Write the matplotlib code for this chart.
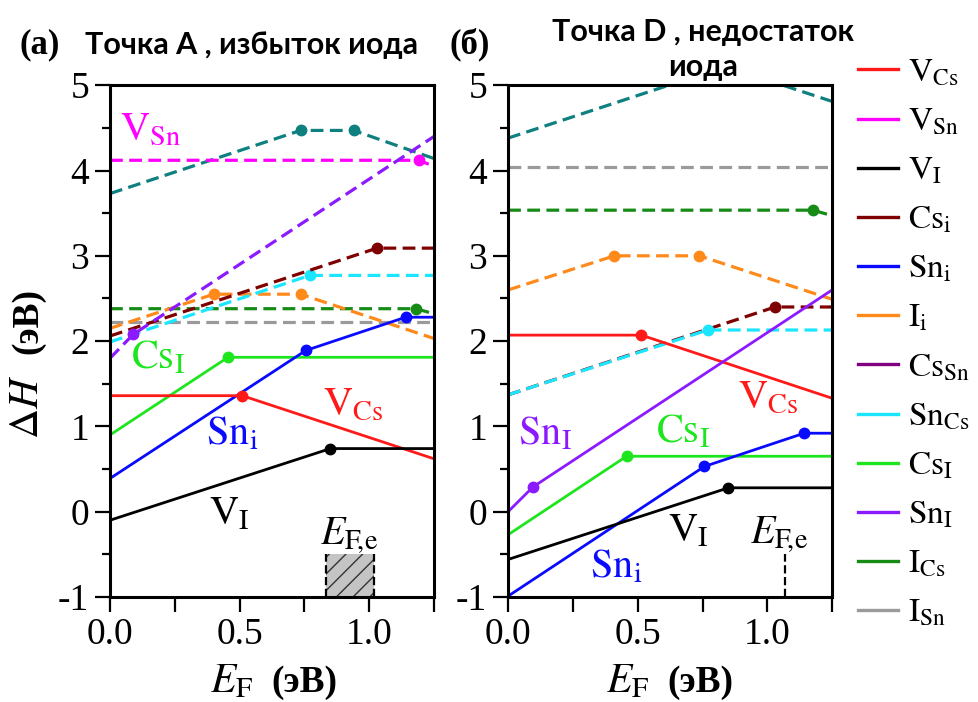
import matplotlib
matplotlib.use('Agg')
import matplotlib.pyplot as plt
from matplotlib.lines import Line2D
from matplotlib.ticker import MultipleLocator

plt.rcParams['mathtext.fontset'] = 'stix'
plt.rcParams['font.family'] = 'Liberation Serif'
plt.rcParams['axes.unicode_minus'] = False

# --- (а) точка A, избыток иода: ломаные энергии образования ---
a_VCs_x = [0, 0.51, 1.25];             a_VCs_y = [1.36, 1.36, 0.62]
a_VSn_x = [0, 1.19, 1.25];             a_VSn_y = [4.12, 4.12, 4.05]
a_VI_x = [0, 0.85, 1.25];              a_VI_y = [-0.10, 0.74, 0.74]
a_Csi_x = [0, 1.03, 1.25];             a_Csi_y = [2.06, 3.09, 3.09]
a_Sni_x = [0, 0.755, 1.14, 1.25];      a_Sni_y = [0.39, 1.89, 2.28, 2.28]
a_Ii_x = [0, 0.40, 0.735, 1.25];       a_Ii_y = [2.15, 2.55, 2.55, 2.03]
a_CsSn_x = [0, 0.735, 0.94, 1.25];     a_CsSn_y = [3.73, 4.47, 4.47, 4.14]
a_SnCs_x = [0, 0.77, 1.25];            a_SnCs_y = [1.99, 2.77, 2.77]
a_CsI_x = [0, 0.455, 1.25];            a_CsI_y = [0.90, 1.81, 1.81]
a_SnI_x = [0, 0.09, 1.25];             a_SnI_y = [1.80, 2.08, 4.40]
a_ICs_x = [0, 1.18, 1.25];             a_ICs_y = [2.38, 2.38, 2.32]
a_ISn_x = [0, 1.25];                   a_ISn_y = [2.22, 2.22]
a_EFe = [0.833, 1.02]                  # область уровня Ферми

# --- (б) точка D, недостаток иода ---
b_VCs_x = [0, 0.514, 1.25];            b_VCs_y = [2.07, 2.07, 1.33]
b_VI_x = [0, 0.85, 1.25];              b_VI_y = [-0.56, 0.28, 0.28]
b_Csi_x = [0, 1.03, 1.25];             b_Csi_y = [1.37, 2.40, 2.40]
b_Sni_x = [0, 0.757, 1.142, 1.25];     b_Sni_y = [-0.99, 0.53, 0.92, 0.92]
b_Ii_x = [0, 0.41, 0.738, 1.25];       b_Ii_y = [2.60, 3.00, 3.00, 2.49]
b_CsSn_x = [0, 0.73, 0.95, 1.25];      b_CsSn_y = [4.38, 5.11, 5.11, 4.81]
b_SnCs_x = [0, 0.77, 1.25];            b_SnCs_y = [1.37, 2.13, 2.13]
b_CsI_x = [0, 0.457, 1.25];            b_CsI_y = [-0.27, 0.65, 0.65]
b_SnI_x = [0, 0.096, 1.25];            b_SnI_y = [0.0, 0.29, 2.60]
b_ICs_x = [0, 1.177, 1.25];            b_ICs_y = [3.535, 3.535, 3.47]
b_ISn_x = [0, 1.25];                   b_ISn_y = [4.04, 4.04]
b_EFe = 1.07

c_red = '#ff1a1a'
c_mag = '#ff00ff'
c_maroon = '#7f0000'
c_blue = '#0a0aff'
c_orange = '#ff8a1c'
c_teal = '#0e8080'
c_purple = '#800080'
c_cyan = '#1ae6ff'
c_lime = '#1ee61e'
c_violet = '#8c1aff'
c_dkgreen = '#168c16'
c_gray = '#9a9a9a'

DASH = (0, (4, 2))


def draw(ax, x, y, color, dashed):
    kw = dict(color=color, ls=DASH if dashed else '-', lw=2.3 if dashed else 2.0)
    if len(x) > 2:
        kw.update(marker='o', ms=7.5, markevery=list(range(1, len(x) - 1)))
    ax.plot(x, y, **kw)


def setup(ax):
    ax.set_xlim(0, 1.25)
    ax.set_ylim(-1, 5)
    ax.xaxis.set_major_locator(MultipleLocator(0.5))
    ax.xaxis.set_minor_locator(MultipleLocator(0.25))
    ax.yaxis.set_major_locator(MultipleLocator(1))
    ax.yaxis.set_minor_locator(MultipleLocator(0.5))
    ax.xaxis.set_major_formatter(plt.FormatStrFormatter('%.1f'))
    ax.tick_params(which='both', direction='out', width=1.6, labelsize=27, pad=4)
    ax.tick_params(axis='x', which='both', length=11)
    ax.tick_params(axis='y', which='major', length=11)
    ax.tick_params(axis='y', which='minor', length=6)
    for s in ax.spines.values():
        s.set_linewidth(2.2)


fig = plt.figure(figsize=(9.79, 7.02), dpi=100)
axA = fig.add_axes([0.1124, 0.1496, 0.331, 0.729])
axB = fig.add_axes([0.519, 0.1496, 0.331, 0.729])

# панель (а)
draw(axA, a_CsSn_x, a_CsSn_y, c_teal, True)
draw(axA, a_VSn_x, a_VSn_y, c_mag, True)
draw(axA, a_ISn_x, a_ISn_y, c_gray, True)
draw(axA, a_ICs_x, a_ICs_y, c_dkgreen, True)
draw(axA, a_Ii_x, a_Ii_y, c_orange, True)
draw(axA, a_SnCs_x, a_SnCs_y, c_cyan, True)
draw(axA, a_Csi_x, a_Csi_y, c_maroon, True)
draw(axA, a_SnI_x, a_SnI_y, c_violet, True)
draw(axA, a_CsI_x, a_CsI_y, c_lime, False)
draw(axA, a_Sni_x, a_Sni_y, c_blue, False)
draw(axA, a_VCs_x, a_VCs_y, c_red, False)
draw(axA, a_VI_x, a_VI_y, 'black', False)
axA.fill_between(a_EFe, -1, -0.5, facecolor='#c4c4c4', edgecolor='#333333',
                 hatch='//', linewidth=0)
axA.vlines(a_EFe, -1, -0.5, colors='black', linestyles='--', lw=1.6)

EFE = r'$E_{\mathrm{F}\!,\!\mathrm{e}}$'
lbl = dict(fontsize=29, va='center', ha='left')
axA.text(0.04, 4.47, r'$\mathrm{V_{Sn}}$', color=c_mag, **lbl)
axA.text(0.08, 1.80, r'$\mathrm{Cs_{I}}$', color=c_lime, **lbl)
axA.text(0.37, 0.90, r'$\mathrm{Sn_{i}}$', color=c_blue, **lbl)
axA.text(0.82, 1.24, r'$\mathrm{V_{Cs}}$', color=c_red, **lbl)
axA.text(0.38, -0.04, r'$\mathrm{V_{I}}$', color='black', **lbl)
axA.text(0.81, -0.28, EFE, color='black', **lbl)

# панель (б)
draw(axB, b_CsSn_x, b_CsSn_y, c_teal, True)
draw(axB, b_ISn_x, b_ISn_y, c_gray, True)
draw(axB, b_ICs_x, b_ICs_y, c_dkgreen, True)
draw(axB, b_Ii_x, b_Ii_y, c_orange, True)
draw(axB, b_Csi_x, b_Csi_y, c_maroon, True)
draw(axB, b_SnCs_x, b_SnCs_y, c_cyan, True)
draw(axB, b_VCs_x, b_VCs_y, c_red, False)
draw(axB, b_SnI_x, b_SnI_y, c_violet, False)
draw(axB, b_CsI_x, b_CsI_y, c_lime, False)
draw(axB, b_Sni_x, b_Sni_y, c_blue, False)
draw(axB, b_VI_x, b_VI_y, 'black', False)
axB.vlines(b_EFe, -1, -0.5, colors='black', linestyles='--', lw=1.6)

axB.text(0.04, 0.91, r'$\mathrm{Sn_{I}}$', color=c_violet, **lbl)
axB.text(0.57, 0.93, r'$\mathrm{Cs_{I}}$', color=c_lime, **lbl)
axB.text(0.885, 1.32, r'$\mathrm{V_{Cs}}$', color=c_red, **lbl)
axB.text(0.615, -0.24, r'$\mathrm{V_{I}}$', color='black', **lbl)
axB.text(0.315, -0.65, r'$\mathrm{Sn_{i}}$', color=c_blue, **lbl)
axB.text(0.935, -0.27, EFE, color='black', **lbl)

for ax in (axA, axB):
    setup(ax)

# заголовки панелей
fig.text(0.041, 0.936, '(a)', fontsize=25, fontweight='bold', ha='center', va='center')
fig.text(0.480, 0.936, '(б)', fontsize=25, fontweight='bold', ha='center', va='center')
fig.text(0.257, 0.936, 'Точка A , избыток иода', family='Lato', fontweight='bold',
         fontsize=22, ha='center', va='center')
fig.text(0.718, 0.929, 'Точка D , недостаток\nиода', family='Lato', fontweight='bold',
         fontsize=22, ha='center', va='center', linespacing=1.3)

# подписи осей
fig.text(0.028, 0.42, r'$\Delta H$', fontsize=30, rotation=90, ha='center', va='center')
fig.text(0.028, 0.543, '(эВ)', fontsize=27, fontweight='bold', rotation=90,
         ha='center', va='center')
for xe, xu in ((0.237, 0.311), (0.641, 0.715)):
    fig.text(xe, 0.028, r'$E_{\mathrm{F}}$', fontsize=30, ha='center', va='center')
    fig.text(xu, 0.028, '(эВ)', fontsize=27, fontweight='bold', ha='center', va='center')

# легенда
leg_labels = [r'$\mathrm{V_{Cs}}$', r'$\mathrm{V_{Sn}}$', r'$\mathrm{V_{I}}$',
              r'$\mathrm{Cs_{i}}$', r'$\mathrm{Sn_{i}}$', r'$\mathrm{I_{i}}$',
              r'$\mathrm{Cs_{Sn}}$', r'$\mathrm{Sn_{Cs}}$', r'$\mathrm{Cs_{I}}$',
              r'$\mathrm{Sn_{I}}$', r'$\mathrm{I_{Cs}}$', r'$\mathrm{I_{Sn}}$']
leg_colors = [c_red, c_mag, 'black', c_maroon, c_blue, c_orange, c_purple,
              c_cyan, c_lime, c_violet, c_dkgreen, c_gray]
handles = [Line2D([], [], color=c, lw=2.4) for c in leg_colors]
fig.legend(handles, leg_labels, loc='upper left', bbox_to_anchor=(0.876, 0.918),
           frameon=False, fontsize=24, handlelength=1.2, handletextpad=0.3,
           labelspacing=0.56, borderpad=0, borderaxespad=0)

fig.savefig('out.png', dpi=100)
